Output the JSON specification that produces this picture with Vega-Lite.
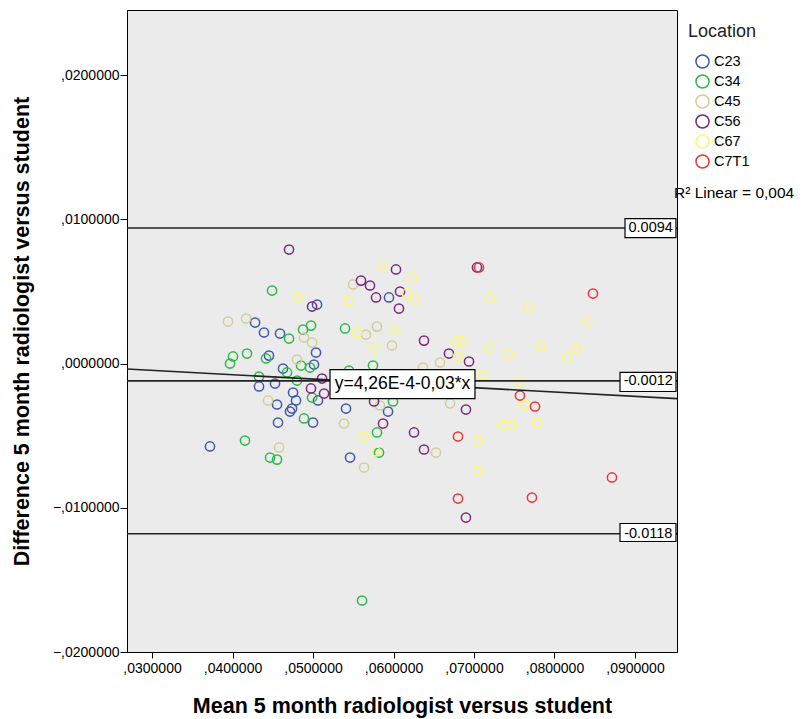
{
  "$schema": "https://vega.github.io/schema/vega-lite/v6.json",
  "width": 550,
  "height": 642,
  "autosize": {"type": "none"},
  "padding": {"left": 127, "top": 10, "right": 127, "bottom": 67},
  "background": "white",
  "config": {
    "view": {"stroke": "#000000", "strokeWidth": 1, "fill": "#ebebeb"},
    "font": "Liberation Sans",
    "axis": {"grid": false, "domainColor": "#000000", "tickColor": "#000000", "labelColor": "#000000", "titleColor": "#000000", "labelFont": "Liberation Sans", "labelFontSize": 14, "titleFont": "Liberation Sans", "titleFontWeight": "bold", "titleFontSize": 21.5}
  },
  "datasets": {
    "pts": [
      {"m": 0.03720, "d": -0.00575, "Location": "C23"},
      {"m": 0.04280, "d": 0.00284, "Location": "C23"},
      {"m": 0.04391, "d": 0.00215, "Location": "C23"},
      {"m": 0.04590, "d": 0.00208, "Location": "C23"},
      {"m": 0.04453, "d": 0.00055, "Location": "C23"},
      {"m": 0.05037, "d": 0.00076, "Location": "C23"},
      {"m": 0.05012, "d": -0.00007, "Location": "C23"},
      {"m": 0.04627, "d": -0.00035, "Location": "C23"},
      {"m": 0.04329, "d": -0.00159, "Location": "C23"},
      {"m": 0.04528, "d": -0.00139, "Location": "C23"},
      {"m": 0.04752, "d": -0.00201, "Location": "C23"},
      {"m": 0.04789, "d": -0.00256, "Location": "C23"},
      {"m": 0.05062, "d": -0.00256, "Location": "C23"},
      {"m": 0.04553, "d": -0.00284, "Location": "C23"},
      {"m": 0.04739, "d": -0.00312, "Location": "C23"},
      {"m": 0.04714, "d": -0.00333, "Location": "C23"},
      {"m": 0.05000, "d": -0.00409, "Location": "C23"},
      {"m": 0.04565, "d": -0.00409, "Location": "C23"},
      {"m": 0.05050, "d": 0.00409, "Location": "C23"},
      {"m": 0.05944, "d": 0.00458, "Location": "C23"},
      {"m": 0.05410, "d": -0.00312, "Location": "C23"},
      {"m": 0.05932, "d": -0.00333, "Location": "C23"},
      {"m": 0.05460, "d": -0.00652, "Location": "C23"},
      {"m": 0.04491, "d": 0.00506, "Location": "C34"},
      {"m": 0.04702, "d": 0.00173, "Location": "C34"},
      {"m": 0.04876, "d": 0.00236, "Location": "C34"},
      {"m": 0.04975, "d": 0.00263, "Location": "C34"},
      {"m": 0.04006, "d": 0.00049, "Location": "C34"},
      {"m": 0.03969, "d": 0.00000, "Location": "C34"},
      {"m": 0.04180, "d": 0.00069, "Location": "C34"},
      {"m": 0.04416, "d": 0.00035, "Location": "C34"},
      {"m": 0.04851, "d": -0.00014, "Location": "C34"},
      {"m": 0.04963, "d": -0.00028, "Location": "C34"},
      {"m": 0.04677, "d": -0.00062, "Location": "C34"},
      {"m": 0.04329, "d": -0.00090, "Location": "C34"},
      {"m": 0.04801, "d": -0.00118, "Location": "C34"},
      {"m": 0.04988, "d": -0.00236, "Location": "C34"},
      {"m": 0.04888, "d": -0.00381, "Location": "C34"},
      {"m": 0.04155, "d": -0.00534, "Location": "C34"},
      {"m": 0.04466, "d": -0.00652, "Location": "C34"},
      {"m": 0.04553, "d": -0.00666, "Location": "C34"},
      {"m": 0.05398, "d": 0.00243, "Location": "C34"},
      {"m": 0.05447, "d": -0.00049, "Location": "C34"},
      {"m": 0.05745, "d": -0.00014, "Location": "C34"},
      {"m": 0.05994, "d": -0.00263, "Location": "C34"},
      {"m": 0.05795, "d": -0.00478, "Location": "C34"},
      {"m": 0.05820, "d": -0.00617, "Location": "C34"},
      {"m": 0.05609, "d": -0.01643, "Location": "C34"},
      {"m": 0.03944, "d": 0.00291, "Location": "C45"},
      {"m": 0.04168, "d": 0.00312, "Location": "C45"},
      {"m": 0.04888, "d": 0.00180, "Location": "C45"},
      {"m": 0.04988, "d": 0.00146, "Location": "C45"},
      {"m": 0.04801, "d": 0.00028, "Location": "C45"},
      {"m": 0.04441, "d": -0.00256, "Location": "C45"},
      {"m": 0.04578, "d": -0.00582, "Location": "C45"},
      {"m": 0.05497, "d": 0.00548, "Location": "C45"},
      {"m": 0.05658, "d": 0.00201, "Location": "C45"},
      {"m": 0.05795, "d": 0.00256, "Location": "C45"},
      {"m": 0.05981, "d": 0.00125, "Location": "C45"},
      {"m": 0.06578, "d": 0.00007, "Location": "C45"},
      {"m": 0.06366, "d": -0.00028, "Location": "C45"},
      {"m": 0.05832, "d": -0.00291, "Location": "C45"},
      {"m": 0.06702, "d": -0.00277, "Location": "C45"},
      {"m": 0.05385, "d": -0.00416, "Location": "C45"},
      {"m": 0.05634, "d": -0.00721, "Location": "C45"},
      {"m": 0.06528, "d": -0.00617, "Location": "C45"},
      {"m": 0.04702, "d": 0.00790, "Location": "C56"},
      {"m": 0.04988, "d": 0.00395, "Location": "C56"},
      {"m": 0.05596, "d": 0.00575, "Location": "C56"},
      {"m": 0.05708, "d": 0.00541, "Location": "C56"},
      {"m": 0.06031, "d": 0.00652, "Location": "C56"},
      {"m": 0.06081, "d": 0.00499, "Location": "C56"},
      {"m": 0.05783, "d": 0.00458, "Location": "C56"},
      {"m": 0.06068, "d": 0.00381, "Location": "C56"},
      {"m": 0.07037, "d": 0.00666, "Location": "C56"},
      {"m": 0.06379, "d": 0.00159, "Location": "C56"},
      {"m": 0.06689, "d": 0.00069, "Location": "C56"},
      {"m": 0.06938, "d": 0.00014, "Location": "C56"},
      {"m": 0.05112, "d": -0.00104, "Location": "C56"},
      {"m": 0.04975, "d": -0.00173, "Location": "C56"},
      {"m": 0.05137, "d": -0.00208, "Location": "C56"},
      {"m": 0.05758, "d": -0.00263, "Location": "C56"},
      {"m": 0.06900, "d": -0.00319, "Location": "C56"},
      {"m": 0.05870, "d": -0.00416, "Location": "C56"},
      {"m": 0.06255, "d": -0.00478, "Location": "C56"},
      {"m": 0.06379, "d": -0.00596, "Location": "C56"},
      {"m": 0.06900, "d": -0.01068, "Location": "C56"},
      {"m": 0.04814, "d": 0.00464, "Location": "C67"},
      {"m": 0.05447, "d": 0.00437, "Location": "C67"},
      {"m": 0.05857, "d": 0.00679, "Location": "C67"},
      {"m": 0.06230, "d": 0.00596, "Location": "C67"},
      {"m": 0.06168, "d": 0.00485, "Location": "C67"},
      {"m": 0.06267, "d": 0.00444, "Location": "C67"},
      {"m": 0.05547, "d": 0.00215, "Location": "C67"},
      {"m": 0.06006, "d": 0.00236, "Location": "C67"},
      {"m": 0.05770, "d": 0.00111, "Location": "C67"},
      {"m": 0.06789, "d": 0.00153, "Location": "C67"},
      {"m": 0.06851, "d": 0.00153, "Location": "C67"},
      {"m": 0.06801, "d": 0.00049, "Location": "C67"},
      {"m": 0.07186, "d": 0.00111, "Location": "C67"},
      {"m": 0.07422, "d": 0.00062, "Location": "C67"},
      {"m": 0.07820, "d": 0.00118, "Location": "C67"},
      {"m": 0.08267, "d": 0.00104, "Location": "C67"},
      {"m": 0.08155, "d": 0.00042, "Location": "C67"},
      {"m": 0.07112, "d": -0.00076, "Location": "C67"},
      {"m": 0.07559, "d": -0.00125, "Location": "C67"},
      {"m": 0.07633, "d": -0.00284, "Location": "C67"},
      {"m": 0.07360, "d": -0.00423, "Location": "C67"},
      {"m": 0.07472, "d": -0.00423, "Location": "C67"},
      {"m": 0.07783, "d": -0.00409, "Location": "C67"},
      {"m": 0.07050, "d": -0.00534, "Location": "C67"},
      {"m": 0.07050, "d": -0.00742, "Location": "C67"},
      {"m": 0.05634, "d": -0.00506, "Location": "C67"},
      {"m": 0.05783, "d": -0.00610, "Location": "C67"},
      {"m": 0.07199, "d": 0.00458, "Location": "C67"},
      {"m": 0.07671, "d": 0.00388, "Location": "C67"},
      {"m": 0.08404, "d": 0.00291, "Location": "C67"},
      {"m": 0.07062, "d": 0.00666, "Location": "C7T1"},
      {"m": 0.08478, "d": 0.00485, "Location": "C7T1"},
      {"m": 0.07571, "d": -0.00222, "Location": "C7T1"},
      {"m": 0.07758, "d": -0.00298, "Location": "C7T1"},
      {"m": 0.06801, "d": -0.00506, "Location": "C7T1"},
      {"m": 0.08714, "d": -0.00790, "Location": "C7T1"},
      {"m": 0.06801, "d": -0.00936, "Location": "C7T1"},
      {"m": 0.07720, "d": -0.00929, "Location": "C7T1"}
    ],
    "refs": [{"v": 0.0094}, {"v": -0.0012}, {"v": -0.0118}],
    "fit": [{"m": 0.02689, "d": -0.000381}, {"m": 0.09522, "d": -0.002431}],
    "boxes": [
      {"x1": 0.08876, "x2": 0.09509, "y1": 0.01005, "y2": 0.00873, "cx": 0.09195, "cy": 0.0094, "t": "0.0094", "fs": 14.5},
      {"x1": 0.08814, "x2": 0.09509, "y1": -0.00062, "y2": -0.00194, "cx": 0.09165, "cy": -0.0012, "t": "-0.0012", "fs": 14.5},
      {"x1": 0.08814, "x2": 0.09509, "y1": -0.01109, "y2": -0.01234, "cx": 0.09165, "cy": -0.0118, "t": "-0.0118", "fs": 14.5},
      {"x1": 0.05211, "x2": 0.07012, "y1": -0.00042, "y2": -0.00243, "cx": 0.06112, "cy": -0.00142, "t": "y=4,26E-4-0,03*x", "fs": 17.5}
    ],
    "r2": [{"m": 0.09485, "d": 0.01185, "t": "R² Linear = 0,004"}]
  },
  "layer": [
    {
      "data": {"name": "pts"},
      "mark": {"type": "point", "shape": "circle", "filled": false, "size": 85, "strokeWidth": 1.5, "opacity": 1},
      "encoding": {
        "x": {"field": "m", "type": "quantitative", "scale": {"domain": [0.02689, 0.09522], "nice": false, "zero": false},
          "axis": {"values": [0.03, 0.04, 0.05, 0.06, 0.07, 0.08, 0.09], "labelExpr": "replace(format(datum.value, '.7f'), '0.', ',')", "tickSize": 6, "labelPadding": 3, "title": "Mean 5 month radiologist versus student", "titleBaseline": "middle", "titleY": 54}},
        "y": {"field": "d", "type": "quantitative", "scale": {"domain": [-0.02, 0.02451], "nice": false, "zero": false},
          "axis": {"values": [-0.02, -0.01, 0, 0.01, 0.02], "labelExpr": "replace(format(datum.value, '.7f'), '0.', ',')", "tickSize": 7, "labelPadding": 1, "title": "Difference 5 month radiologist versus student", "titleBaseline": "middle", "titleX": -105, "titleY": 321}},
        "color": {"field": "Location", "type": "nominal",
          "scale": {"domain": ["C23", "C34", "C45", "C56", "C67", "C7T1"], "range": ["#3e58ac", "#2eb848", "#d3ce97", "#7c287d", "#fbf873", "#ef3338"]},
          "legend": {"orient": "none", "legendX": 561, "legendY": 13, "title": "Location", "titleFontSize": 18, "titleFontWeight": "normal", "titleColor": "#222222", "titlePadding": 13, "labelFontSize": 14.5, "labelColor": "#000000", "symbolType": "circle", "symbolFillColor": "transparent", "symbolStrokeWidth": 1.5, "symbolSize": 170, "symbolOffset": 7, "rowPadding": -1, "labelOffset": 4}}
      }
    },
    {
      "data": {"name": "refs"},
      "mark": {"type": "rule", "color": "#222222", "strokeWidth": 1.6},
      "encoding": {"y": {"field": "v", "type": "quantitative"}}
    },
    {
      "data": {"name": "fit"},
      "mark": {"type": "line", "color": "#222222", "strokeWidth": 1.6},
      "encoding": {"x": {"field": "m", "type": "quantitative"}, "y": {"field": "d", "type": "quantitative"}}
    },
    {
      "data": {"name": "boxes"},
      "mark": {"type": "rect", "fill": "white", "stroke": "#000000", "strokeWidth": 1.2},
      "encoding": {"x": {"field": "x1", "type": "quantitative"}, "x2": {"field": "x2"}, "y": {"field": "y1", "type": "quantitative"}, "y2": {"field": "y2"}}
    },
    {
      "data": {"name": "boxes"},
      "mark": {"type": "text", "color": "#000000", "font": "Liberation Sans", "align": "center", "baseline": "middle"},
      "encoding": {"x": {"field": "cx", "type": "quantitative"}, "y": {"field": "cy", "type": "quantitative"}, "text": {"field": "t"}, "size": {"field": "fs", "type": "quantitative", "scale": null}}
    },
    {
      "data": {"name": "r2"},
      "mark": {"type": "text", "color": "#000000", "font": "Liberation Sans", "fontSize": 15.5, "align": "left", "baseline": "middle"},
      "encoding": {"x": {"field": "m", "type": "quantitative"}, "y": {"field": "d", "type": "quantitative"}, "text": {"field": "t"}}
    }
  ]
}
